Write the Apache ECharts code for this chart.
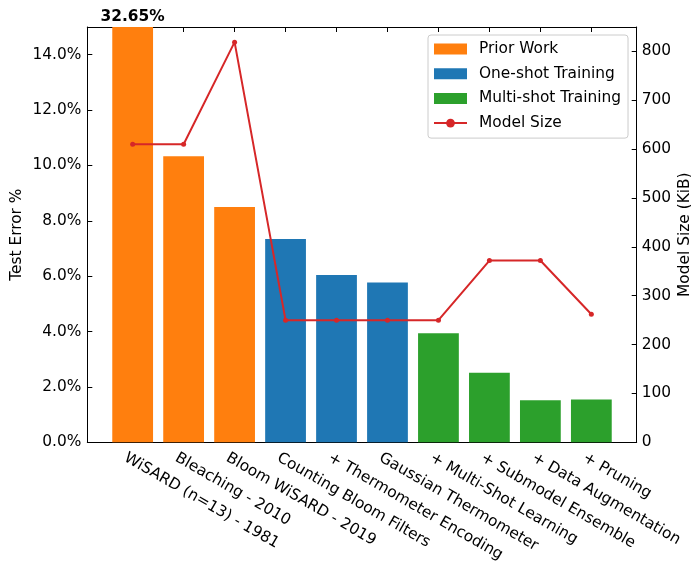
<!DOCTYPE html>
<html>
<head>
<meta charset="utf-8">
<script src="https://cdn.jsdelivr.net/npm/echarts@6/dist/echarts.min.js"></script>
<style>
  html, body { margin: 0; padding: 0; background: #fff; }
  #chart { width: 691px; height: 563px; }
</style>
</head>
<body>
<div id="chart"></div>
<script>
// Methods, in order of appearance on the x axis
const categories = [
  'WiSARD (n=13) - 1981',
  'Bleaching - 2010',
  'Bloom WiSARD - 2019',
  'Counting Bloom Filters',
  '+ Thermometer Encoding',
  'Gaussian Thermometer',
  '+ Multi-Shot Learning',
  '+ Submodel Ensemble',
  '+ Data Augmentation',
  '+ Pruning'
];
// Group names (legend) and which group each method belongs to
const groups = ['Prior Work', 'One-shot Training', 'Multi-shot Training'];
const groupOf = [0, 0, 0, 1, 1, 1, 2, 2, 2, 2];
// Test error in percent
const testError = [32.65, 10.33, 8.50, 7.34, 6.04, 5.77, 3.94, 2.51, 1.52, 1.55];
// Model size in KiB
const modelSize = [610, 610, 819, 250, 250, 250, 250, 372, 372, 262];

const groupColors = ['#ff7f0e', '#1f77b4', '#2ca02c'];
const lineColor = '#d62728';
const FONT = 'DejaVu Sans';
const FS = 15.4;
const idx = categories.map((_, i) => i);
const X_MIN = -0.89, X_MAX = categories.length - 1 + 0.89;
// rotated labels start slightly left of their tick
const LABEL_SHIFT = 0.143;

const barSeries = groups.map((g, gi) => ({
  type: 'bar',
  name: g,
  xAxisIndex: 0,
  yAxisIndex: 0,
  barWidth: '80%',
  barGap: '-100%',
  clip: true,
  itemStyle: { color: groupColors[gi] },
  data: idx.filter(i => groupOf[i] === gi).map(i => {
    const item = { value: [i, testError[i]] };
    if (testError[i] > 15) {
      // value runs past the axis top; print it above the clipped bar
      item.label = {
        show: true, position: 'top', distance: 3,
        formatter: p => p.value[1].toFixed(2) + '%',
        fontFamily: FONT, fontSize: FS, fontWeight: 'bold', color: '#000'
      };
    }
    return item;
  })
}));

const lineSeries = {
  type: 'line',
  name: 'Model Size',
  xAxisIndex: 0,
  yAxisIndex: 1,
  symbol: 'circle',
  symbolSize: 5,
  lineStyle: { color: lineColor, width: 2 },
  itemStyle: { color: lineColor },
  data: idx.map(i => [i, modelSize[i]])
};

const axisLine = { show: true, onZero: false, lineStyle: { color: '#000', width: 1 } };
const tickIn = { show: true, inside: true, length: 5, lineStyle: { color: '#000', width: 1 } };
const labelStyle = { fontFamily: FONT, fontSize: FS, color: '#000' };

const option = {
  animation: false,
  backgroundColor: '#fff',
  grid: {
    left: 87.3, right: 54.3, top: 27, bottom: 120.7,
    containLabel: false, outerBoundsMode: 'none'
  },
  legend: {
    orient: 'vertical',
    left: 428, top: 35,
    itemWidth: 33, itemHeight: 11, itemGap: 8.7,
    padding: [6, 7, 7, 5],
    borderColor: '#cccccc', borderWidth: 1, borderRadius: 3,
    backgroundColor: 'rgba(255,255,255,0.8)',
    textStyle: { fontFamily: FONT, fontSize: FS, color: '#000', lineHeight: 16, padding: [0, 0, 0, 7] },
    data: [
      { name: groups[0], icon: 'rect' },
      { name: groups[1], icon: 'rect' },
      { name: groups[2], icon: 'rect' },
      { name: 'Model Size' }
    ]
  },
  xAxis: [
    {
      type: 'value', position: 'bottom', min: X_MIN, max: X_MAX,
      axisLine: axisLine,
      axisTick: Object.assign({ customValues: idx }, tickIn),
      splitLine: { show: false },
      axisLabel: Object.assign({
        customValues: idx.map(i => i - LABEL_SHIFT),
        rotate: -30, margin: 14.5,
        formatter: v => categories[Math.round(v + LABEL_SHIFT)]
      }, labelStyle)
    },
    {
      type: 'value', position: 'top', min: X_MIN, max: X_MAX,
      axisLine: axisLine,
      axisTick: Object.assign({ customValues: idx }, tickIn),
      splitLine: { show: false },
      axisLabel: { show: false }
    }
  ],
  yAxis: [
    {
      type: 'value', position: 'left', min: 0, max: 15, interval: 2,
      axisLine: axisLine, axisTick: tickIn, splitLine: { show: false },
      axisLabel: Object.assign({
        margin: 6, showMaxLabel: false,
        formatter: v => v.toFixed(1) + '%'
      }, labelStyle),
      name: 'Test Error %', nameLocation: 'middle', nameRotate: 90, nameGap: 63,
      nameMoveOverlap: false,
      nameTextStyle: labelStyle
    },
    {
      type: 'value', position: 'right', min: 0, max: 850, interval: 100,
      axisLine: axisLine, axisTick: tickIn, splitLine: { show: false },
      axisLabel: Object.assign({ margin: 5, showMaxLabel: false }, labelStyle),
      name: 'Model Size (KiB)', nameLocation: 'middle', nameRotate: 90, nameGap: 41,
      nameMoveOverlap: false,
      nameTextStyle: labelStyle
    }
  ],
  series: barSeries.concat([lineSeries])
};

const chart = echarts.init(document.getElementById('chart'), null, { renderer: 'canvas' });
chart.setOption(option);
</script>
</body>
</html>
